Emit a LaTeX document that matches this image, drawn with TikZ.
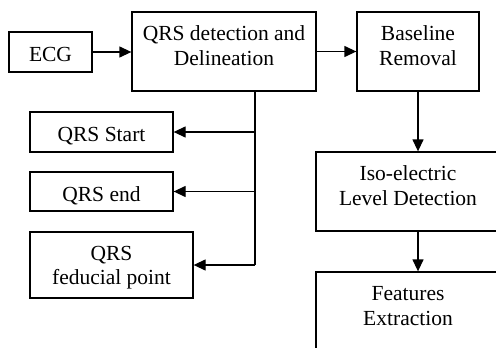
\documentclass[tikz,border=0pt]{standalone}
\usepackage{fontspec}
\setmainfont{Liberation Serif}
\usetikzlibrary{arrows.meta,calc}
\begin{document}
\begin{tikzpicture}[x=1pt,y=-1pt,
  box/.style={draw,line width=1.3pt,inner sep=0pt,align=center,
    font=\fontsize{21.5}{25}\selectfont},
  one/.style={text height=19pt,text depth=0pt},
  arr/.style={line width=1.3pt,-{Triangle[length=12pt,width=11pt]}},
  ln/.style={line width=1.3pt}]
\useasboundingbox (0,0) rectangle (496,348);
\clip (0,0) rectangle (496,348);
\node[box,one,minimum width=83pt,minimum height=40pt] (ecg) at (50.5,52) {ECG};
\node[box,minimum width=184pt,minimum height=79pt] (qrs) at (224,51.5) {QRS detection and\\Delineation\\[-13.7pt]};
\node[box,minimum width=122pt,minimum height=79pt] (base) at (418,51.5) {Baseline\\Removal\\[-13.7pt]};
\node[box,one,minimum width=143pt,minimum height=40pt] (start) at (101.5,132) {QRS Start};
\node[box,one,minimum width=143pt,minimum height=39pt] (end) at (101.5,191.5) {QRS end};
\node[box,minimum width=163pt,minimum height=66pt] (fed) at (111.5,265) {\rule{0pt}{20pt}QRS\\[-1pt]feducial point};
\node[box,minimum width=184pt,minimum height=79pt] (iso) at (408,191.5) {Iso-electric\\Level Detection\\[-13.7pt]};
\node[box,minimum width=184pt,minimum height=80pt] (feat) at (408,312) {Features\\Extraction\\[-13.7pt]};
\coordinate (bus) at (255,0);
\coordinate (rc) at (418,0);
\draw[arr] (ecg.east) -- (ecg.east -| qrs.west);
\draw[arr] (qrs.east) -- (qrs.east -| base.west);
\draw[ln] (qrs.south -| bus) -- (bus |- fed.east);
\draw[arr] (bus |- start.east) -- (start.east);
\draw[arr] (bus |- end.east) -- (end.east);
\draw[arr] (bus |- fed.east) -- (fed.east);
\draw[arr] (base.south) -- (rc |- iso.north);
\draw[arr] (rc |- iso.south) -- (rc |- feat.north);
\end{tikzpicture}
\end{document}
